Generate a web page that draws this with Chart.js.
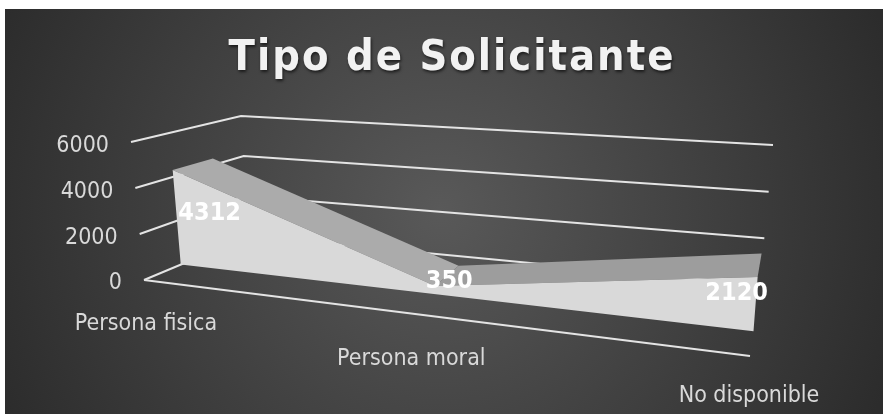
<!DOCTYPE html>
<html><head><meta charset="utf-8">
<style>html,body{margin:0;padding:0;background:#fff}#w{width:883px;height:414px;position:relative}</style>
<script src="https://cdn.jsdelivr.net/npm/chart.js@4/dist/chart.umd.min.js"></script>
</head><body><div id="w"><canvas id="c" width="883" height="414"></canvas></div>
<script>
const categories = ['Persona fisica', 'Persona moral', 'No disponible'];
const values = [4312, 350, 2120];
const tickValues = [0, 2000, 4000, 6000];
const chartTitle = 'Tipo de Solicitante';

// 3D box of the plot, in screen units of the hidden scales
const box = {
  frontFloor: [[144, 280], [750, 356]],
  frontTop:   [[131, 142], [761, 196]],
  backFloor:  [[249, 236], [760, 285]],
  backTop:    [[241, 116], [773, 145]]
};
const axisMax = 6000, persp = 1.25, depthFront = 0.35, depthBack = 0.72;
const mix = (a, b, k) => [a[0] + (b[0] - a[0]) * k, a[1] + (b[1] - a[1]) * k];
function project(pos, v, d) {
  const s = pos / (pos + persp * (1 - pos));
  const u = v / axisMax;
  const at = e => mix(box[e][0], box[e][1], s);
  const p = mix(mix(at('frontFloor'), at('frontTop'), u), mix(at('backFloor'), at('backTop'), u), d);
  return { x: p[0], y: p[1] };
}
const last = categories.length - 1;
const posOf = i => i / last;

const gridSets = tickValues.map(v => {
  const pts = [project(0, v, 0), project(0, v, 1), project(1, v, 1)];
  return { data: pts, borderColor: '#e4e4e4', borderWidth: 2, fill: false, order: 3 };
});
gridSets.push({ data: [project(0, 0, 0), project(1, 0, 0)], borderColor: '#e4e4e4', borderWidth: 2, fill: false, order: 3 });

const frontOutline = values.map((v, i) => project(posOf(i), v, depthFront))
  .concat([project(1, 0, depthFront), project(0, 0, depthFront)]);
const frontSet = { data: frontOutline, borderWidth: 0, borderColor: 'transparent', backgroundColor: '#d9d9d9', fill: 'shape', order: 1 };

const topShades = ['#ababab', '#9d9d9d'];
const topSets = values.slice(0, -1).map((v, i) => ({
  data: [project(posOf(i), v, depthFront), project(posOf(i + 1), values[i + 1], depthFront),
         project(posOf(i + 1), values[i + 1], depthBack), project(posOf(i), v, depthBack)],
  borderWidth: 0, borderColor: 'transparent', backgroundColor: topShades[i], fill: 'shape', order: 2
}));

const backdrop = {
  id: 'backdrop',
  beforeDraw(ch) {
    const g = ch.ctx;
    g.save();
    g.fillStyle = '#ffffff';
    g.fillRect(0, 0, 883, 414);
    const r = g.createRadialGradient(440, 210, 0, 440, 210, 480);
    r.addColorStop(0, '#595959');
    r.addColorStop(1, '#2c2c2c');
    g.fillStyle = r;
    g.fillRect(5, 9, 878, 405);
    g.restore();
  }
};
const labelFont = '"DejaVu Sans Condensed", "DejaVu Sans", sans-serif';
const texts = {
  id: 'texts',
  afterDraw(ch) {
    const g = ch.ctx, X = ch.scales.x, Y = ch.scales.y;
    g.save();
    g.textBaseline = 'middle';
    // title
    g.textAlign = 'center';
    g.font = 'bold 43px ' + labelFont;
    g.letterSpacing = '2px';
    g.shadowColor = 'rgba(0,0,0,0.6)'; g.shadowBlur = 3; g.shadowOffsetX = 1; g.shadowOffsetY = 2;
    g.fillStyle = '#f2f2f2';
    g.fillText(chartTitle, 452, 59);
    g.shadowColor = 'transparent'; g.shadowBlur = 0; g.shadowOffsetX = 0; g.shadowOffsetY = 0;
    g.letterSpacing = '0px';
    // value ticks
    g.font = '23px ' + labelFont;
    g.fillStyle = '#d9d9d9';
    g.textAlign = 'right';
    tickValues.forEach(v => {
      const p = project(0, v, 0);
      g.fillText(String(v), X.getPixelForValue(p.x) - 22, Y.getPixelForValue(p.y) + (v ? 4 : 3));
    });
    // categories
    g.textAlign = 'center';
    const catShift = [[2, 44], [-2, 45], [-1, 40]];
    categories.forEach((c, i) => {
      const p = project(posOf(i), 0, 0);
      g.fillText(c, X.getPixelForValue(p.x) + catShift[i][0], Y.getPixelForValue(p.y) + catShift[i][1]);
    });
    // value labels
    g.font = 'bold 25px ' + labelFont;
    g.fillStyle = '#ffffff';
    const valShift = [[37, 44], [14, -4], [-21, 16]];
    values.forEach((v, i) => {
      const p = project(posOf(i), v, depthFront);
      g.fillText(String(v), X.getPixelForValue(p.x) + valShift[i][0], Y.getPixelForValue(p.y) + valShift[i][1]);
    });
    g.restore();
  }
};

new Chart(document.getElementById('c'), {
  type: 'scatter',
  data: { datasets: [frontSet, ...topSets, ...gridSets].map(d => Object.assign({ showLine: true, pointRadius: 0, tension: 0 }, d)) },
  plugins: [backdrop, texts],
  options: {
    responsive: false,
    animation: false,
    layout: { padding: 0 },
    plugins: { legend: { display: false }, tooltip: { enabled: false }, title: { display: false } },
    scales: {
      x: { type: 'linear', min: 0, max: 883, display: false },
      y: { type: 'linear', min: 0, max: 414, reverse: true, display: false }
    }
  }
});
</script></body></html>
